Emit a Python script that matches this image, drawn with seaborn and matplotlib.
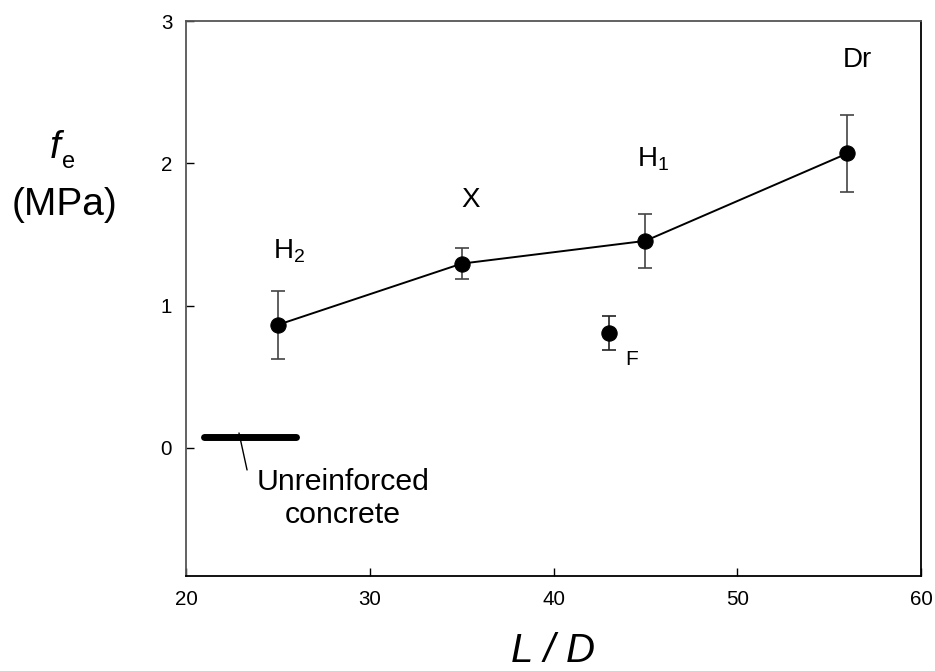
import seaborn as sns
import matplotlib.pyplot as plt
import pandas as pd

# data
fibre = ["H2", "X", "H1", "Dr"]
aspect_ratio = [25, 35, 45, 56]
fe_mean = [0.865, 1.295, 1.455, 2.07]
fe_err = [0.24, 0.11, 0.19, 0.27]

f_ratio = [43]
f_mean = [0.806]
f_err = [0.118]

plain_x = [21, 26]
plain_y = [0.08, 0.08]

sns.set_style("ticks")
plt.rcParams["font.family"] = ["Liberation Sans", "DejaVu Sans"]
plt.rcParams["mathtext.fontset"] = "custom"
plt.rcParams["mathtext.rm"] = "Liberation Sans"
plt.rcParams["mathtext.it"] = "Liberation Sans:italic"
plt.rcParams["text.color"] = "black"
plt.rcParams["xtick.color"] = "black"
plt.rcParams["ytick.color"] = "black"

df = pd.DataFrame({"fibre": fibre, "LD": aspect_ratio, "fe": fe_mean, "err": fe_err})
df_f = pd.DataFrame({"LD": f_ratio, "fe": f_mean, "err": f_err})

fig = plt.figure(figsize=(9.35, 6.71), dpi=100)
ax = fig.add_axes([0.199, 0.1416, 0.786, 0.8271])

# error bars first, points on top
ax.errorbar(df["LD"], df["fe"], yerr=df["err"], fmt="none", ecolor="#444444",
            elinewidth=1.2, capsize=5, capthick=1.2, zorder=2)
ax.errorbar(df_f["LD"], df_f["fe"], yerr=df_f["err"], fmt="none", ecolor="#222222",
            elinewidth=1.2, capsize=5, capthick=1.2, zorder=2)
sns.lineplot(data=df, x="LD", y="fe", color="black", linewidth=1.4, marker="o",
             markersize=11, markeredgecolor="black", ax=ax, zorder=3)
sns.scatterplot(data=df_f, x="LD", y="fe", color="black", s=120, edgecolor="black",
                ax=ax, zorder=3)

# unreinforced concrete bar
ax.plot(plain_x, plain_y, color="black", linewidth=5, solid_capstyle="round", zorder=3)
ax.plot([22.88, 23.32], [0.105, -0.155], color="black", linewidth=1)
ax.text(28.54, -0.295, "Unreinforced", fontsize=21.8, ha="center", va="baseline")
ax.text(28.54, -0.527, "concrete", fontsize=21.8, ha="center", va="baseline")

# point labels
lab = 20
ax.text(24.73, 1.33, r"H$_{\rm 2}$", fontsize=lab, ha="left", va="baseline")
ax.text(35.5, 1.69, "X", fontsize=lab, ha="center", va="baseline")
ax.text(44.54, 1.98, r"H$_{\rm 1}$", fontsize=lab, ha="left", va="baseline")
ax.text(55.76, 2.68, "Dr", fontsize=lab, ha="left", va="baseline")
ax.text(43.9, 0.58, "F", fontsize=15, ha="left", va="baseline")

ax.set_xlim(20, 60)
ax.set_ylim(-0.9, 3)
ax.set_xticks([20, 30, 40, 50, 60])
ax.set_yticks([0, 1, 2, 3])
ax.tick_params(direction="in", length=6, width=1, labelsize=14.8, pad=10)
ax.set_xlabel("")
ax.set_ylabel("")

for side in ["top", "right", "left", "bottom"]:
    ax.spines[side].set_visible(True)
    ax.spines[side].set_linewidth(1.3)
ax.spines["left"].set_color("#555555")
ax.spines["top"].set_color("#555555")
ax.spines["bottom"].set_color("black")
ax.spines["right"].set_color("black")

# axis titles
fig.text(50 / 935, 1 - 158 / 671, "f", fontsize=28, style="italic", ha="left", va="baseline")
fig.text(62 / 935, 1 - 168 / 671, "e", fontsize=17, ha="left", va="baseline")
fig.text(64 / 935, 1 - 215 / 671, "(MPa)", fontsize=28, ha="center", va="baseline")
fig.text(553 / 935, 1 - 662 / 671, "L / D", fontsize=29, style="italic", ha="center", va="baseline")

fig.savefig("out.png", dpi=100)
